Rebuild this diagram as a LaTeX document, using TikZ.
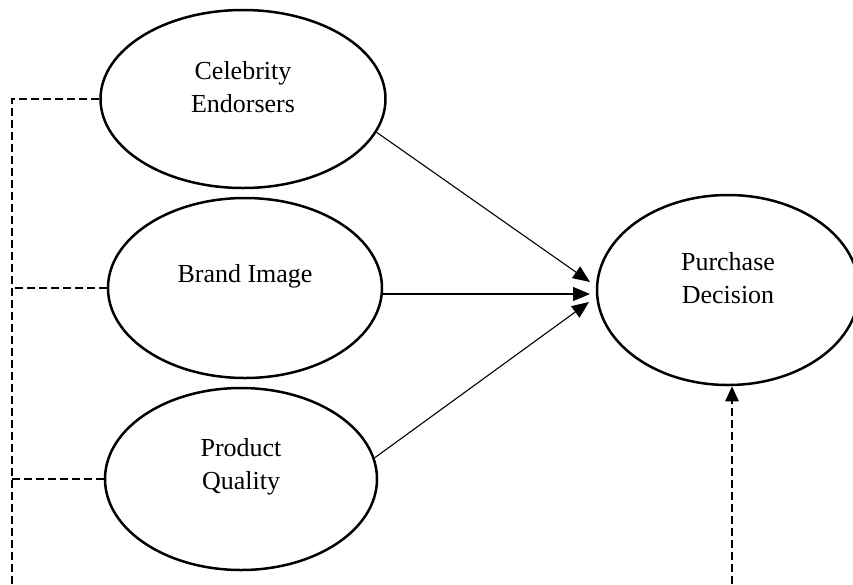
\documentclass[tikz,border=0pt]{standalone}
\usepackage{fontspec}
\setmainfont{Liberation Serif}
\usetikzlibrary{shapes.geometric,arrows.meta}
\begin{document}
\begin{tikzpicture}[x=1pt,y=-1pt,
  oval/.style={draw,ellipse,line width=2.5pt,inner sep=0pt},
  lbl/.style={align=center,font=\fontsize{26}{33}\selectfont,inner sep=0pt},
  solidarrow/.style={line width=1.1pt,-{Triangle[length=17pt,width=14pt]}},
  dashline/.style={line width=2.6pt,dash pattern=on 8pt off 4pt},
  dasharrow/.style={dashline,-{Triangle[length=15pt,width=13pt]}}]
\useasboundingbox (0,0) rectangle (853,584);
\node[oval,minimum width=285pt,minimum height=178pt] (ce) at (243,99) {};
\node[oval,minimum width=274pt,minimum height=180pt] (bi) at (245,288) {};
\node[oval,minimum width=272pt,minimum height=182pt] (pq) at (241,479) {};
\node[oval,minimum width=262pt,minimum height=190pt] (pd) at (728,290) {};
\node[lbl] (tce) at ([yshift=12pt]ce.center) {Celebrity\\Endorsers};
\node[lbl] (tbi) at ([yshift=12pt]bi.center) {Brand Image};
\node[lbl] (tpq) at ([yshift=12pt]pq.center) {Product\\Quality};
\node[lbl] (tpd) at ([yshift=12pt]pd.center) {Purchase\\Decision};
\coordinate (t1) at (590,282);
\coordinate (t2) at (590,294);
\coordinate (t3) at (589,302);
\coordinate (lb) at (12,584);
\coordinate (rb) at (732,584);
\draw[solidarrow] (ce.-14) -- (t1);
\draw[solidarrow] (t2 -| bi.east) -- (t2);
\draw[solidarrow] (pq.9) -- (t3);
\draw[dashline] (ce.west) -| (lb);
\draw[dashline] (bi.west) -- (bi.west -| lb);
\draw[dashline] (pq.west) -- (pq.west -| lb);
\draw[dasharrow] (rb) -- (rb |- pd.south);
\end{tikzpicture}
\end{document}
